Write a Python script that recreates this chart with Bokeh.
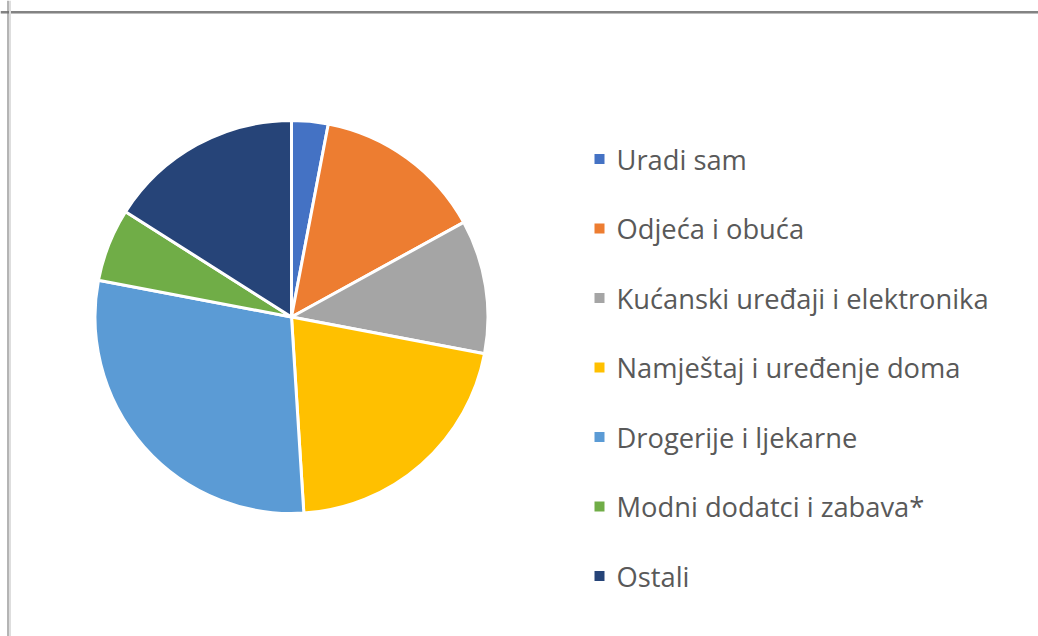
import numpy as np
from bokeh.plotting import figure
from bokeh.models import Range1d, Span, ColumnDataSource
from bokeh.core.properties import value
from bokeh.embed import file_html
from bokeh.resources import INLINE

# ---- data ----
categories = ["Uradi sam", "Odjeća i obuća", "Kućanski uređaji i elektronika",
              "Namještaj i uređenje doma", "Drogerije i ljekarne",
              "Modni dodatci i zabava*", "Ostali"]
shares = [3, 14, 11, 21, 29, 6, 16]
colors = ["#4472C4", "#ED7D31", "#A5A5A5", "#FFC000", "#5B9BD5", "#70AD47", "#264478"]

W, H = 1038, 636
p = figure(width=W, height=H, output_backend="svg", toolbar_location=None,
           x_range=Range1d(0, W), y_range=Range1d(0, H), min_border=0)
p.axis.visible = False
p.grid.visible = False
p.outline_line_color = None
p.background_fill_color = "white"
p.border_fill_color = "white"

# pie (clockwise from 12 o'clock)
vals = np.array(shares, dtype=float)
frac = vals / vals.sum()
cum = np.concatenate([[0], np.cumsum(frac)])
start = np.pi / 2 - cum[1:] * 2 * np.pi
end = np.pi / 2 - cum[:-1] * 2 * np.pi
src = ColumnDataSource(dict(start=start, end=end, color=colors, cat=categories))
cx, cy, r = 291, H - 316.5, 196.5
p.wedge(x=cx, y=cy, radius=r, start_angle="start", end_angle="end",
        fill_color="color", line_color="white", line_width=3, source=src)

# legend
n = len(categories)
row0, pitch = H - 158.5, 69.5
ly = [row0 - i * pitch for i in range(n)]
lsrc = ColumnDataSource(dict(y=ly, color=colors, cat=categories))
p.scatter(x=599, y="y", marker="square", size=10, fill_color="color",
          line_color=None, source=lsrc)
p.text(x=616, y="y", text="cat", text_font=value("Open Sans"),
       text_font_size="27.3px", text_color="#595959", text_baseline="middle",
       text_align="left", source=lsrc)

# frame border (top and left)
p.add_layout(Span(location=H - 11.5, dimension="width", line_color="#5a5a5a", line_width=1.5))
p.add_layout(Span(location=H - 13, dimension="width", line_color="#bdbdbd", line_width=1))
p.add_layout(Span(location=7.5, dimension="height", line_color="#6a6a6a", line_width=1))
p.add_layout(Span(location=9.5, dimension="height", line_color="#dedede", line_width=2))

open("out.html", "w").write(file_html(p, INLINE))
